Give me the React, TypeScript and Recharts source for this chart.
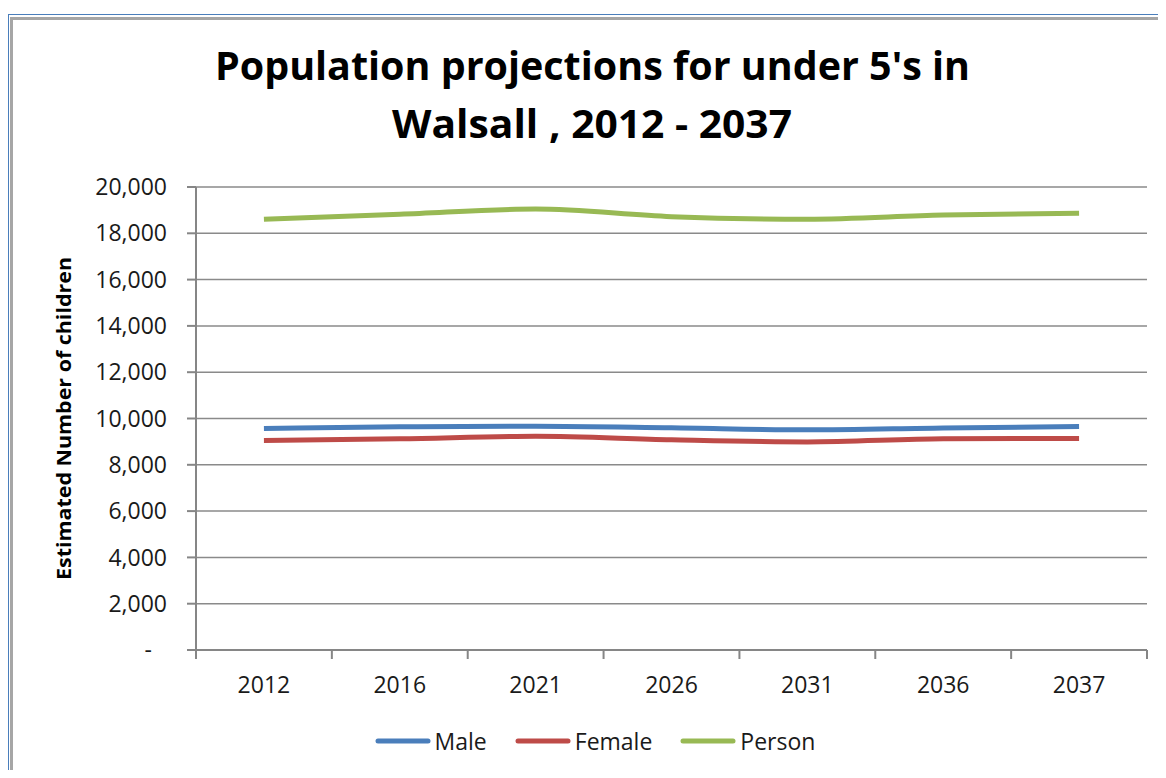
import {
  CartesianGrid,
  ComposedChart,
  Legend,
  Line,
  XAxis,
  YAxis,
} from "recharts";

const years = ["2012", "2016", "2021", "2026", "2031", "2036", "2037"];
const male = [9570, 9640, 9670, 9600, 9510, 9590, 9650];
const female = [9050, 9120, 9230, 9080, 8990, 9120, 9140];
const person = [18610, 18820, 19050, 18720, 18610, 18790, 18870];
const yTicks = [0, 2000, 4000, 6000, 8000, 10000, 12000, 14000, 16000, 18000, 20000];

const series = [
  { key: "Male", color: "#4A7EBB" },
  { key: "Female", color: "#BE4B48" },
  { key: "Person", color: "#98B954" },
];

const data = years.map((year, i) => ({
  year,
  Male: male[i],
  Female: female[i],
  Person: person[i],
}));

const W = 1150;
const H = 762;
const AXIS = "#868686";
const FONT = "'Open Sans', sans-serif";
const TEXT = "#1a1a1a";

function XTick(props: any) {
  const { x, y, payload, index, visibleTicksCount } = props;
  const half = payload.offset || 951 / 14;
  const axisY = y - 27;
  return (
    <g>
      <line x1={x - half} x2={x - half} y1={axisY} y2={axisY + 9} stroke={AXIS} strokeWidth={2} />
      {index === visibleTicksCount - 1 && (
        <line x1={x + half} x2={x + half} y1={axisY} y2={axisY + 9} stroke={AXIS} strokeWidth={2} />
      )}
      <text x={x} y={y} dy="0.71em" textAnchor="middle" fill={TEXT} fontSize={23} fontFamily={FONT}>
        {payload.value}
      </text>
    </g>
  );
}

function YTick(props: any) {
  const { x, y, payload } = props;
  const zero = payload.value === 0;
  return (
    <text
      x={zero ? x - 15 : x}
      y={y}
      dy="0.355em"
      textAnchor="end"
      fill={TEXT}
      fontSize={23}
      fontFamily={FONT}
    >
      {zero ? "-" : payload.value.toLocaleString("en-US")}
    </text>
  );
}

function YLabel(props: any) {
  const { viewBox } = props;
  const cx = viewBox.x + 55.5;
  const cy = viewBox.y + viewBox.height / 2;
  return (
    <text
      x={cx}
      y={cy}
      transform={`rotate(-90 ${cx} ${cy})`}
      textAnchor="middle"
      dominantBaseline="central"
      fontFamily={FONT}
      fontWeight="bold"
      fontSize={20}
      textLength={323}
      lengthAdjust="spacingAndGlyphs"
      fill="#000"
    >
      Estimated Number of children
    </text>
  );
}

function LegendContent() {
  return (
    <div
      style={{
        display: "flex",
        justifyContent: "center",
        alignItems: "center",
        height: 40,
        paddingLeft: 24,
        fontFamily: FONT,
        fontSize: 23,
        color: TEXT,
      }}
    >
      {series.map((s, i) => (
        <div
          key={s.key}
          style={{ display: "flex", alignItems: "center", marginRight: i < series.length - 1 ? 28 : 0 }}
        >
          <svg width={56} height={10}>
            <line x1={3} x2={53} y1={5} y2={5} stroke={s.color} strokeWidth={5} strokeLinecap="round" />
          </svg>
          <span style={{ marginLeft: 4 }}>{s.key}</span>
        </div>
      ))}
    </div>
  );
}

export default function App() {
  return (
    <div style={{ position: "relative", width: W, height: H, overflow: "hidden", background: "#fff" }}>
      <div
        style={{
          position: "absolute",
          left: 0,
          top: 6,
          width: 1300,
          height: 900,
          border: "1px solid #4A7EBB",
        }}
      />
      <div
        style={{
          position: "absolute",
          left: 2,
          top: 9,
          width: 1300,
          height: 900,
          border: "3px solid #A6A6A6",
        }}
      />
      <svg
        width={W}
        height={170}
        style={{ position: "absolute", left: 0, top: 0 }}
        fontFamily={FONT}
        fontWeight="bold"
        fontSize={40}
      >
        <text x={584.5} y={72} textAnchor="middle" textLength={755} lengthAdjust="spacingAndGlyphs" fill="#000">
          Population projections for under 5's in
        </text>
        <text x={584} y={130} textAnchor="middle" textLength={400} lengthAdjust="spacingAndGlyphs" fill="#000">
          Walsall , 2012 - 2037
        </text>
      </svg>
      <div style={{ position: "absolute", left: 0, top: 0 }}>
        <ComposedChart
          width={W}
          height={H}
          data={data}
          margin={{ top: 179, right: 11, left: 0, bottom: 9 }}
        >
          <CartesianGrid vertical={false} stroke="#8a8a8a" strokeWidth={1.5} />
          <XAxis
            dataKey="year"
            scale="band"
            height={71}
            interval={0}
            tickSize={9}
            tickMargin={18}
            tickLine={false}
            axisLine={{ stroke: AXIS, strokeWidth: 2 }}
            tick={<XTick />}
          />
          <YAxis
            width={188}
            domain={[0, 20000]}
            ticks={yTicks}
            interval={0}
            tickSize={9}
            tickMargin={20}
            tickLine={{ stroke: AXIS, strokeWidth: 2 }}
            axisLine={{ stroke: AXIS, strokeWidth: 2 }}
            tick={<YTick />}
            label={<YLabel />}
          />
          <Legend
            verticalAlign="bottom"
            content={<LegendContent />}
            wrapperStyle={{ left: 0, width: W, bottom: 9 }}
          />
          {series.map((s) => (
            <Line
              key={s.key}
              type="monotone"
              dataKey={s.key}
              stroke={s.color}
              strokeWidth={5}
              dot={false}
              activeDot={false}
              isAnimationActive={false}
            />
          ))}
        </ComposedChart>
      </div>
    </div>
  );
}
